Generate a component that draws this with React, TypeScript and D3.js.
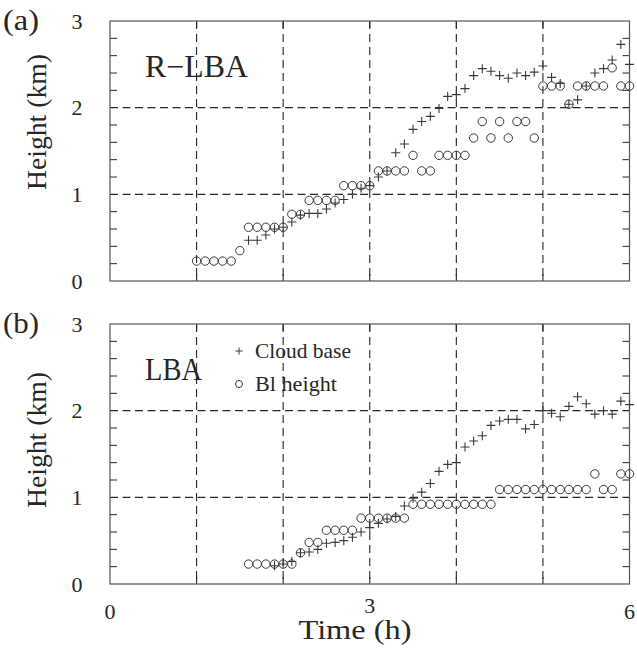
import React from "react";
import * as d3 from "d3";

const times = [1.0,1.1,1.2,1.3,1.4,1.5,1.6,1.7,1.8,1.9,2.0,2.1,2.2,2.3,2.4,2.5,2.6,2.7,2.8,2.9,3.0,3.1,3.2,3.3,3.4,3.5,3.6,3.7,3.8,3.9,4.0,4.1,4.2,4.3,4.4,4.5,4.6,4.7,4.8,4.9,5.0,5.1,5.2,5.3,5.4,5.5,5.6,5.7,5.8,5.9,6.0];

// Panel (a) R-LBA
const aBlHeight = [0.23,0.23,0.23,0.23,0.23,0.35,0.62,0.62,0.62,0.62,0.62,0.77,0.77,0.93,0.93,0.93,0.93,1.10,1.10,1.10,1.10,1.27,1.27,1.27,1.27,1.45,1.27,1.27,1.45,1.45,1.45,1.45,1.65,1.84,1.65,1.84,1.65,1.84,1.84,1.65,2.25,2.25,2.25,2.04,2.25,2.25,2.25,2.25,2.46,2.25,2.25];
const aCloudBase = [null,null,null,null,null,null,0.47,0.47,0.53,0.60,0.62,0.68,0.76,0.78,0.78,0.83,0.90,0.94,1.00,1.07,1.10,1.20,1.27,1.48,1.58,1.75,1.84,1.90,1.99,2.13,2.15,2.22,2.37,2.45,2.42,2.37,2.34,2.40,2.37,2.41,2.48,2.35,2.28,2.04,2.09,2.25,2.40,2.45,2.55,2.73,2.50];

// Panel (b) LBA
const bBlHeight = [null,null,null,null,null,null,0.23,0.23,0.23,0.23,0.23,0.23,0.36,0.48,0.48,0.62,0.62,0.62,0.62,0.76,0.76,0.76,0.76,0.76,0.76,0.92,0.92,0.92,0.92,0.92,0.92,0.92,0.92,0.92,0.92,1.09,1.09,1.09,1.09,1.09,1.09,1.09,1.09,1.09,1.09,1.09,1.27,1.09,1.09,1.27,1.27];
const bCloudBase = [null,null,null,null,null,null,null,null,null,0.21,0.23,0.26,0.36,0.37,0.40,0.47,0.48,0.50,0.54,0.60,0.65,0.70,0.75,0.78,0.90,0.99,1.06,1.16,1.30,1.38,1.40,1.58,1.65,1.71,1.83,1.88,1.90,1.90,1.79,1.84,2.00,1.97,1.93,2.05,2.16,2.08,1.96,2.00,1.96,2.11,2.07];

const xTicks = [0, 3, 6];
const yTicks = [0, 1, 2, 3];
const gridX = [1, 2, 3, 4, 5];
const gridY = [1, 2];
const minorY = [0.2,0.4,0.6,0.8,1.2,1.4,1.6,1.8,2.2,2.4,2.6,2.8];

const panelLabels = ["(a)", "(b)"];
const runLabels = ["R\u2212LBA", "LBA"];
const runLabelWidths = [103, 57];
const legendLabels = ["Cloud base", "Bl height"];

const W = 637, H = 652;
const X0 = 110, X1 = 629.5;
const x = d3.scaleLinear().domain([0, 6]).range([X0, X1]);

const INK = "#262626";
const MARK = "#3a3a3a";
const SERIF = "Liberation Serif";

function Panel({ top, bottom, idx, circles, crosses, legend, yLabelY }) {
  const y = d3.scaleLinear().domain([0, 3]).range([bottom, top]);
  const pts = (vals) => times.map((t, i) => ({ t, v: vals[i] })).filter((d) => d.v != null);
  const crossPath = (cx, cy, s) => `M${cx - s},${cy}H${cx + s}M${cx},${cy - s}V${cy + s}`;
  return (
    <g>
      {gridX.map((g) => (
        <line key={"gx" + g} x1={x(g)} x2={x(g)} y1={top} y2={bottom} stroke={INK} strokeWidth={1.1} strokeDasharray="8,5" />
      ))}
      {gridY.map((g) => (
        <line key={"gy" + g} x1={X0} x2={X1} y1={y(g)} y2={y(g)} stroke={INK} strokeWidth={1.1} strokeDasharray="8,4.5" />
      ))}
      {minorY.map((m) => (
        <g key={"my" + m}>
          <line x1={X0} x2={X0 + 7} y1={y(m)} y2={y(m)} stroke={INK} strokeWidth={1} />
          <line x1={X1 - 7} x2={X1} y1={y(m)} y2={y(m)} stroke={INK} strokeWidth={1} />
        </g>
      ))}
      {gridX.map((g) => (
        <g key={"tx" + g}>
          <line x1={x(g)} x2={x(g)} y1={bottom} y2={bottom - 7} stroke={INK} strokeWidth={1.1} />
          <line x1={x(g)} x2={x(g)} y1={top} y2={top + 7} stroke={INK} strokeWidth={1.1} />
        </g>
      ))}
      <rect x={X0} y={top} width={X1 - X0} height={bottom - top} fill="none" stroke="#555" strokeWidth={1.2} />
      {pts(circles).map((d, i) => (
        <circle key={"c" + i} cx={x(d.t)} cy={y(d.v)} r={4.2} fill="none" stroke={MARK} strokeWidth={1} />
      ))}
      {pts(crosses).map((d, i) => (
        <path key={"p" + i} d={crossPath(x(d.t), y(d.v), 4.5)} stroke={MARK} strokeWidth={1.1} fill="none" />
      ))}
      {yTicks.map((t) => (
        <text key={"yl" + t} x={77} y={y(t)} dy="0.35em" textAnchor="middle" fontFamily={SERIF} fontSize={22} fill={INK}>{t}</text>
      ))}
      <text x={21} y={top} dy="0.3em" textAnchor="middle" fontFamily={SERIF} fontSize={30} fill={INK} textLength={36} lengthAdjust="spacingAndGlyphs">{panelLabels[idx]}</text>
      <text transform={`translate(37,${yLabelY}) rotate(-90)`} textAnchor="middle" fontFamily={SERIF} fontSize={27} fill={INK} dy="0.32em" textLength={136} lengthAdjust="spacingAndGlyphs">Height (km)</text>
      <text x={145} y={top + 56} fontFamily={SERIF} fontSize={31} fill={INK} textLength={runLabelWidths[idx]} lengthAdjust="spacingAndGlyphs">{runLabels[idx]}</text>
      {legend && (
        <g>
          <path d={crossPath(239, top + 27, 3.5)} stroke={MARK} strokeWidth={1} />
          <text x={255} y={top + 27} dy="0.33em" fontFamily={SERIF} fontSize={21} fill={INK} textLength={96} lengthAdjust="spacingAndGlyphs">{legendLabels[0]}</text>
          <circle cx={239} cy={top + 60} r={3.5} fill="none" stroke={MARK} strokeWidth={1} />
          <text x={255} y={top + 60} dy="0.33em" fontFamily={SERIF} fontSize={21} fill={INK} textLength={82} lengthAdjust="spacingAndGlyphs">{legendLabels[1]}</text>
        </g>
      )}
    </g>
  );
}

export default function App() {
  return (
    <svg width={W} height={H} style={{ position: "absolute", left: 0, top: 0, background: "#fff" }}>
      <rect width={W} height={H} fill="#fff" />
      <Panel top={21} bottom={281} idx={0} circles={aBlHeight} crosses={aCloudBase} legend={false} yLabelY={122} />
      <Panel top={324} bottom={584} idx={1} circles={bBlHeight} crosses={bCloudBase} legend={true} yLabelY={440} />
      {xTicks.map((t) => (
        <text key={"xl" + t} x={x(t)} y={t === 3 ? 605 : 611} dy="0.35em" textAnchor="middle" fontFamily={SERIF} fontSize={22} fill={INK}>{t}</text>
      ))}
      <text x={355} y={630} dy="0.35em" textAnchor="middle" fontFamily={SERIF} fontSize={27} fill={INK} textLength={113} lengthAdjust="spacingAndGlyphs">Time (h)</text>
    </svg>
  );
}
